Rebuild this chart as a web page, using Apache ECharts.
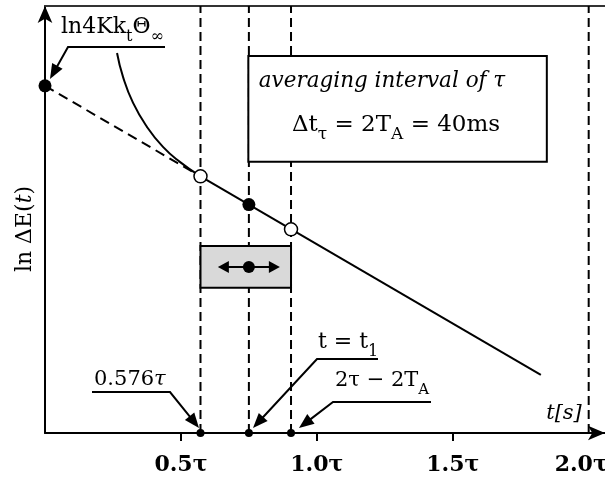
<!DOCTYPE html>
<html lang="en">
<head>
<meta charset="UTF-8">
<title>ln dE(t)</title>
<script src="https://cdn.jsdelivr.net/npm/echarts@6/dist/echarts.min.js"></script>
<style>
  body, html { padding: 0; margin: 0; background: #fff; }
</style>
</head>
<body>
<div id="chart" style="width:605px;height:481px;"></div>
<script>
// values (t in units of tau)
var tickValues = [0.5, 1.0, 1.5, 2.0];
var tickLabels = ['0.5τ', '1.0τ', '1.5τ', '2.0τ'];
var asymptoteT = [0, 0.572, 1.824];
var asymptoteY = [8.13, 6.01, 1.36];
var curveT = [0.265, 0.287, 0.324, 0.375, 0.434, 0.496, 0.572];
var curveY = [8.90, 8.34, 7.73, 7.17, 6.70, 6.35, 6.01];
var pointT = [0, 0.572, 0.75, 0.905];
var pointY = [8.13, 6.01, 5.35, 4.77];
var pointFilled = [true, false, true, false];
var guideT = [0.572, 0.75, 0.905, 2.0];
var axisDotT = [0.572, 0.75, 0.905];
var windowT = [0.572, 0.905];   // averaging window around t1

var SERIF = "'DejaVu Serif', serif";

var dom = document.getElementById('chart');
var myChart = echarts.init(dom);

// rich text helper: parts = [[text, kind]], kind n / i / s / si
function richText(x, y, parts, size, align, extra) {
    var sub = Math.round(size * 0.72);
    var rich = {
        n: { fontSize: size, fontFamily: SERIF, lineHeight: size * 1.6, fill: '#000' },
        i: { fontSize: size, fontFamily: SERIF, fontStyle: 'italic', lineHeight: size * 1.6, fill: '#000' },
        s: { fontSize: sub, fontFamily: SERIF, lineHeight: sub, verticalAlign: 'bottom', fill: '#000' },
        si: { fontSize: sub, fontFamily: SERIF, fontStyle: 'italic', lineHeight: sub, verticalAlign: 'bottom', fill: '#000' }
    };
    var txt = parts.map(function (p) { return '{' + p[1] + '|' + p[0] + '}'; }).join('');
    var el = {
        type: 'text', x: x, y: y, z: 20,
        style: {
            text: txt, rich: rich, fill: '#000',
            font: size + 'px ' + SERIF,
            align: align, textAlign: align,
            verticalAlign: 'middle', textVerticalAlign: 'middle'
        }
    };
    if (extra) Object.assign(el, extra);
    return el;
}

// leader line ending in a filled arrow head
function leader(pts) {
    var n = pts.length, a = pts[n - 2], b = pts[n - 1];
    var dx = b[0] - a[0], dy = b[1] - a[1], L = Math.sqrt(dx * dx + dy * dy);
    var ux = dx / L, uy = dy / L, len = 15, hw = 6;
    var bx = b[0] - ux * len, by = b[1] - uy * len;
    var line = pts.slice(0, n - 1).concat([[bx + ux * 2, by + uy * 2]]);
    return [
        { type: 'polyline', z: 20, shape: { points: line }, style: { stroke: '#000', lineWidth: 2, fill: null } },
        { type: 'polygon', z: 20, shape: { points: [b, [bx - uy * hw, by + ux * hw], [bx + uy * hw, by - ux * hw]] }, style: { fill: '#000' } }
    ];
}

var graphics = []
    .concat(leader([[165, 47], [68, 47], [50, 79]]))
    .concat(leader([[92, 392], [170, 392], [199, 428]]))
    .concat(leader([[378, 359], [317, 359], [253, 428]]))
    .concat(leader([[431, 402], [333, 402], [299, 428]]));

graphics.push(richText(61, 27, [['ln4Kk', 'n'], ['t', 's'], ['Θ', 'n'], ['∞', 's']], 22, 'left'));
graphics.push(richText(94, 380, [['0.576', 'n'], ['τ', 'i']], 21, 'left'));
graphics.push(richText(318, 342, [['t = t', 'n'], ['1', 's']], 22, 'left'));
graphics.push(richText(335, 381, [['2τ − 2T', 'n'], ['A', 's']], 21, 'left'));
graphics.push(richText(382, 81, [['averaging interval of τ', 'i']], 21.5, 'center'));
graphics.push(richText(396, 125, [['Δt', 'n'], ['τ', 's'], [' = 2T', 'n'], ['A', 's'], [' = 40ms', 'n']], 23, 'center'));
graphics.push(richText(564, 414, [['t[s]', 'i']], 21, 'center'));
graphics.push(richText(25, 229, [['ln ΔE(', 'n'], ['t', 'i'], [')', 'n']], 22, 'center', { rotation: Math.PI / 2 }));

myChart.setOption({
    animation: false,
    backgroundColor: '#fff',
    grid: { left: 45, right: 0, top: 6, bottom: 48, containLabel: false, outerBoundsMode: 'none' },
    xAxis: [{
        type: 'value', min: 0, max: 2.06, interval: 0.5,
        position: 'bottom',
        axisLine: { show: true, symbol: ['none', 'arrow'], symbolSize: [11, 17], lineStyle: { color: '#000', width: 2 } },
        axisTick: { show: true, customValues: tickValues.slice(0, 3), length: 8, lineStyle: { color: '#000', width: 2 } },
        axisLabel: {
            customValues: tickValues,
            margin: 21,
            color: '#000',
            fontFamily: SERIF, fontWeight: 'bold', fontSize: 22,
            formatter: function (v) {
                var i = tickValues.indexOf(v);
                if (i === tickValues.length - 1) return '{last|' + tickLabels[i] + '}';
                return i >= 0 ? tickLabels[i] : '';
            },
            rich: { last: { fontFamily: SERIF, fontWeight: 'bold', fontSize: 22, color: '#000', padding: [0, 15, 0, 0] } }
        },
        splitLine: { show: false }
    }, {
        type: 'value', min: 0, max: 2.06, position: 'top',
        axisLine: { show: true, lineStyle: { color: '#333', width: 2 } },
        axisTick: { show: false }, axisLabel: { show: false }, splitLine: { show: false }
    }],
    yAxis: {
        type: 'value', min: 0, max: 10,
        axisLine: { show: true, symbol: ['none', 'arrow'], symbolSize: [11, 17], lineStyle: { color: '#000', width: 2 } },
        axisTick: { show: false }, axisLabel: { show: false }, splitLine: { show: false }
    },
    graphic: graphics,
    series: [{
        // dashed guide lines
        type: 'custom', z: 1,
        data: guideT.map(function (t) { return [t]; }),
        renderItem: function (params, api) {
            var p0 = api.coord([api.value(0), 0]);
            var p1 = api.coord([api.value(0), 10]);
            return { type: 'line', shape: { x1: p0[0], y1: p0[1], x2: p1[0], y2: p1[1] },
                style: { stroke: '#000', lineWidth: 2, lineDash: [9, 5] } };
        }
    }, {
        // text box + averaging window box
        type: 'custom', z: 3,
        data: [[0.748, 8.83, 1.846, 6.35, 0], [windowT[0], 4.38, windowT[1], 3.40, 1]],
        renderItem: function (params, api) {
            var a = api.coord([api.value(0), api.value(1)]);
            var b = api.coord([api.value(2), api.value(3)]);
            return { type: 'rect', shape: { x: a[0], y: a[1], width: b[0] - a[0], height: b[1] - a[1] },
                style: { fill: api.value(4) ? '#d9d9d9' : '#fff', stroke: '#000', lineWidth: 2 } };
        }
    }, {
        // double arrow in the window
        type: 'custom', z: 4,
        data: [[pointT[2], 3.89]],
        renderItem: function (params, api) {
            var c = api.coord([api.value(0), api.value(1)]);
            var x = c[0], y = c[1];
            return { type: 'group', children: [
                { type: 'line', shape: { x1: x - 22, y1: y, x2: x + 22, y2: y }, style: { stroke: '#000', lineWidth: 2 } },
                { type: 'polygon', shape: { points: [[x - 31, y], [x - 20, y - 6], [x - 20, y + 6]] }, style: { fill: '#000' } },
                { type: 'polygon', shape: { points: [[x + 31, y], [x + 20, y - 6], [x + 20, y + 6]] }, style: { fill: '#000' } },
                { type: 'circle', shape: { cx: x, cy: y, r: 6 }, style: { fill: '#000' } }
            ] };
        }
    }, {
        type: 'line', z: 5, symbol: 'none', clip: false,
        data: [[asymptoteT[0], asymptoteY[0]], [asymptoteT[1], asymptoteY[1]]],
        lineStyle: { color: '#000', width: 2, type: [10, 6] }
    }, {
        type: 'line', z: 5, symbol: 'none',
        data: [[asymptoteT[1], asymptoteY[1]], [asymptoteT[2], asymptoteY[2]]],
        lineStyle: { color: '#000', width: 2 }
    }, {
        type: 'line', z: 5, symbol: 'none', smooth: true,
        data: curveT.map(function (t, i) { return [t, curveY[i]]; }),
        lineStyle: { color: '#000', width: 2 }
    }, {
        type: 'scatter', z: 6, clip: false, symbolSize: 13,
        data: pointT.map(function (t, i) {
            return {
                value: [t, pointY[i]],
                itemStyle: pointFilled[i] ? { color: '#000', opacity: 1 } : { color: '#fff', borderColor: '#000', borderWidth: 1.5, opacity: 1 }
            };
        })
    }, {
        type: 'scatter', z: 6, clip: false, symbolSize: 8,
        data: axisDotT.map(function (t) { return [t, 0]; }),
        itemStyle: { color: '#000', opacity: 1 }
    }]
});
</script>
</body>
</html>
